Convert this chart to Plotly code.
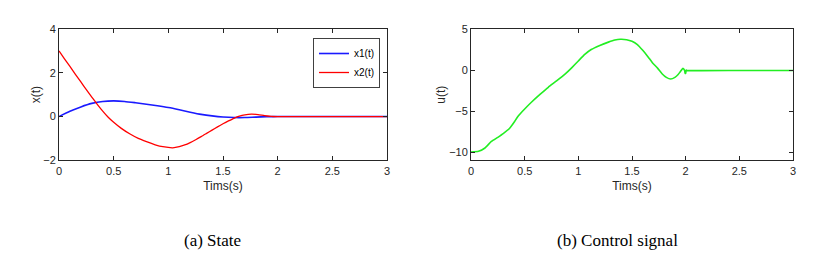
import plotly.graph_objects as go

# ---- data ----
t_x1 = [0, 0.1, 0.2, 0.3, 0.4, 0.5, 0.6, 0.7, 0.8, 0.9, 1.0, 1.1, 1.2, 1.3, 1.4, 1.5, 1.6, 1.7, 1.8, 1.9, 2.0, 2.5, 3.0]
x1 = [0, 0.24, 0.44, 0.6, 0.69, 0.715, 0.69, 0.63, 0.56, 0.49, 0.41, 0.31, 0.2, 0.1, 0.03, -0.02, -0.045, -0.045, -0.025, -0.008, 0, 0, 0]

t_x2 = [0, 0.05, 0.1, 0.15, 0.2, 0.25, 0.3, 0.35, 0.4, 0.45, 0.5, 0.57, 0.65, 0.725, 0.8, 0.88, 0.95, 1.04, 1.1, 1.15, 1.2, 1.25, 1.3, 1.35, 1.4, 1.45, 1.5, 1.55, 1.6, 1.65, 1.7, 1.76, 1.82, 1.88, 1.94, 2.0, 2.5, 3.0]
x2 = [3.0, 2.64, 2.29, 1.93, 1.58, 1.23, 0.89, 0.56, 0.25, -0.03, -0.26, -0.54, -0.8, -1.0, -1.15, -1.29, -1.38, -1.43, -1.38, -1.3, -1.19, -1.06, -0.92, -0.77, -0.62, -0.47, -0.33, -0.2, -0.08, 0.02, 0.08, 0.11, 0.09, 0.04, 0.01, 0, 0, 0]

t_u = [0, 0.07, 0.13, 0.19, 0.25, 0.3, 0.36, 0.4, 0.44, 0.5, 0.565, 0.64, 0.72, 0.8, 0.876, 0.94, 1.0, 1.06, 1.12, 1.2, 1.28, 1.34, 1.39, 1.45, 1.5, 1.55, 1.6, 1.65, 1.69, 1.74, 1.78, 1.82, 1.86, 1.9, 1.93, 1.95, 1.975, 1.99, 1.995, 2.0, 2.005, 2.01, 2.5, 3.0]
u = [-10.0, -9.9, -9.5, -8.7, -8.2, -7.75, -7.1, -6.4, -5.6, -4.75, -3.9, -3.0, -2.1, -1.3, -0.5, 0.3, 1.1, 1.9, 2.5, 3.0, 3.4, 3.65, 3.75, 3.7, 3.5, 3.1, 2.4, 1.6, 0.9, 0.2, -0.45, -0.9, -1.1, -0.9, -0.55, -0.2, 0.2, -0.05, -0.4, -0.4, 0.0, -0.05, -0.05, -0.05]

x_ticks = [0, 0.5, 1, 1.5, 2, 2.5, 3]
x_tick_text = ["0", "0.5", "1", "1.5", "2", "2.5", "3"]
y1_ticks = [-2, 0, 2, 4]
y2_ticks = [-10, -5, 0, 5]

captions = ["(a) State", "(b) Control signal"]

# page has an 8px body margin; figure is sized to fill the rest of the window
OFF = 8
W, H = 821 - OFF, 261 - OFF


def px(xp):
    return (xp - OFF) / W


def py(yp):
    return 1 - (yp - OFF) / H


fig = go.Figure()

fig.add_trace(go.Scatter(x=t_x1, y=x1, mode="lines", name="x1(t)", line=dict(color="#1a1aff", width=1.6, shape="spline", smoothing=0.6), xaxis="x", yaxis="y"))
fig.add_trace(go.Scatter(x=t_x2, y=x2, mode="lines", name="x2(t)", line=dict(color="#ff0000", width=1.3, shape="spline", smoothing=0.5), xaxis="x", yaxis="y"))
fig.add_trace(go.Scatter(x=t_u, y=u, mode="lines", name="u(t)", showlegend=False, line=dict(color="#22ee22", width=1.6, shape="spline", smoothing=0.4), xaxis="x2", yaxis="y2"))

FONT = "Liberation Sans, Arial, sans-serif"
tickfont = dict(family=FONT, size=11, color="#262626")
titlefont = dict(family=FONT, size=12, color="#262626")
axcommon = dict(showgrid=False, zeroline=False, showline=True, linecolor="#262626", linewidth=1, mirror="ticks",
                ticks="inside", ticklen=4, tickcolor="#262626", tickfont=tickfont, automargin=False)

ytop = py(29)
ybot = py(160.3)

fig.update_layout(
    width=W, height=H,
    margin=dict(l=0, r=0, t=0, b=0, autoexpand=False),
    paper_bgcolor="white", plot_bgcolor="white",
    showlegend=True,
    legend=dict(x=px(380), y=py(38), xanchor="right", yanchor="top", bgcolor="white",
                bordercolor="#404040", borderwidth=1, font=dict(family=FONT, size=10, color="#000000"),
                tracegroupgap=0, itemwidth=30),
    xaxis=dict(domain=[px(59), px(387)], range=[0, 3], tickvals=x_ticks, ticktext=x_tick_text,
               title=dict(text="Tims(s)", font=titlefont, standoff=6), anchor="y", **axcommon),
    yaxis=dict(domain=[ybot, ytop], range=[-2, 4], tickvals=y1_ticks,
               title=dict(text="x(t)", font=titlefont, standoff=0), anchor="x", **axcommon),
    xaxis2=dict(domain=[px(471), px(793)], range=[0, 3], tickvals=x_ticks, ticktext=x_tick_text,
                title=dict(text="Tims(s)", font=titlefont, standoff=6), anchor="y2", **axcommon),
    yaxis2=dict(domain=[ybot, ytop], range=[-11, 5], tickvals=y2_ticks,
                title=dict(text="u(t)", font=titlefont, standoff=0), anchor="x2", **axcommon),
)

for cap, cx in zip(captions, [212, 617]):
    fig.add_annotation(text=cap, x=px(cx), y=py(240), xref="paper", yref="paper", showarrow=False,
                       xanchor="center", yanchor="middle",
                       font=dict(family="Liberation Serif, Times New Roman, serif", size=17, color="#000000"))

fig.write_html("out.html")
